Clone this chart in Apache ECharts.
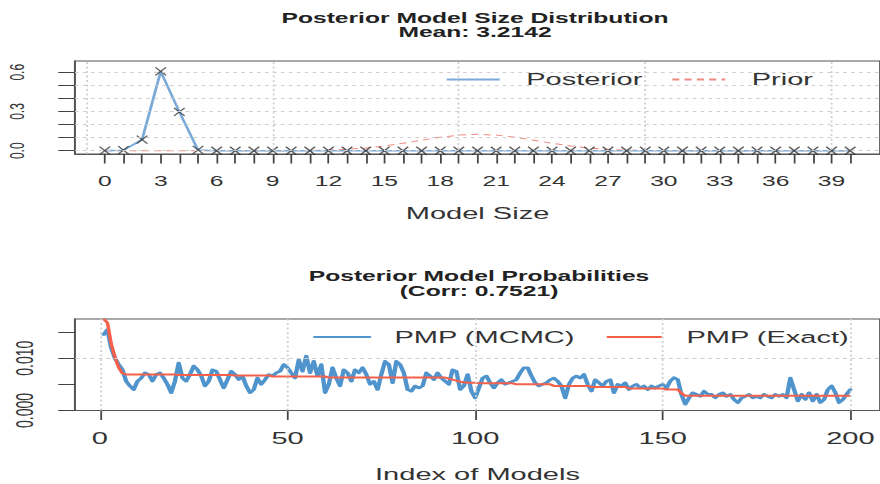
<!DOCTYPE html>
<html>
<head>
<meta charset="utf-8">
<script src="https://cdn.jsdelivr.net/npm/echarts@6/dist/echarts.min.js"></script>
<style>
html,body{margin:0;padding:0;background:#fff;overflow:hidden;}
#wrap{width:500px;height:484px;transform:scaleX(1.76);transform-origin:0 0;}
</style>
</head>
<body>
<div id="wrap"></div>
<script>
// ---------- Panel 1: Posterior Model Size Distribution ----------
const modelSizes = [0,1,2,3,4,5,6,7,8,9,10,11,12,13,14,15,16,17,18,19,20,21,22,23,24,25,26,27,28,29,30,31,32,33,34,35,36,37,38,39,40];
const posterior = [0.0005,0.004,0.085,0.607,0.297,0.006,0,0,0,0,0,0,0,0,0,0,0,0,0,0,0,0,0,0,0,0,0,0,0,0,0,0,0,0,0,0,0,0,0,0,0];
const prior = [0,0,0,0,0,0,0,0,0.0001,0.0003,0.0008,0.0021,0.0051,0.0109,0.0211,0.0366,0.0572,0.0807,0.1031,0.1194,0.1254,0.1194,0.1031,0.0807,0.0572,0.0366,0.0211,0.0109,0.0051,0.0021,0.0008,0.0003,0.0001,0,0,0,0,0,0,0,0];
const topXTicks = modelSizes;
const topXLabels = [0,3,6,9,12,15,18,21,24,27,30,33,36,39];
const topYTicks = [0,0.1,0.2,0.3,0.4,0.5,0.6];
const topYLabels = [0,0.3,0.6];
const topVGrid = [-1,9,19,29,39];
const topHGrid = [0,0.1,0.2,0.3,0.4,0.5,0.6];

// ---------- Panel 2: Posterior Model Probabilities ----------
const pmpMCMC = [
0.0145,0.0155,0.0120,0.0100,0.0088,0.0078,0.0056,0.0047,0.0040,0.0056,
0.0062,0.0072,0.0069,0.0056,0.0069,0.0072,0.0062,0.0050,0.0034,0.0056,
0.0091,0.0062,0.0056,0.0069,0.0085,0.0078,0.0066,0.0047,0.0056,0.0078,
0.0075,0.0059,0.0043,0.0059,0.0075,0.0069,0.0059,0.0066,0.0047,0.0034,
0.0040,0.0062,0.0050,0.0059,0.0069,0.0066,0.0072,0.0075,0.0088,0.0082,
0.0072,0.0062,0.0097,0.0075,0.0104,0.0072,0.0094,0.0066,0.0088,0.0034,
0.0050,0.0082,0.0062,0.0047,0.0078,0.0072,0.0056,0.0078,0.0072,0.0082,
0.0069,0.0050,0.0056,0.0040,0.0069,0.0094,0.0088,0.0053,0.0094,0.0088,
0.0072,0.0040,0.0037,0.0047,0.0043,0.0047,0.0072,0.0066,0.0059,0.0072,
0.0062,0.0056,0.0050,0.0078,0.0075,0.0040,0.0047,0.0069,0.0037,0.0024,
0.0043,0.0062,0.0066,0.0053,0.0043,0.0053,0.0059,0.0050,0.0053,0.0056,
0.0059,0.0072,0.0082,0.0082,0.0066,0.0053,0.0047,0.0050,0.0053,0.0059,
0.0062,0.0056,0.0047,0.0024,0.0050,0.0062,0.0066,0.0062,0.0069,0.0050,
0.0037,0.0059,0.0053,0.0047,0.0056,0.0059,0.0034,0.0050,0.0047,0.0053,
0.0040,0.0047,0.0050,0.0043,0.0047,0.0040,0.0047,0.0043,0.0047,0.0050,
0.0043,0.0056,0.0063,0.0059,0.0030,0.0012,0.0024,0.0034,0.0031,0.0027,
0.0037,0.0031,0.0031,0.0024,0.0031,0.0034,0.0027,0.0031,0.0021,0.0015,
0.0024,0.0027,0.0031,0.0024,0.0027,0.0024,0.0031,0.0027,0.0024,0.0031,
0.0027,0.0031,0.0024,0.0062,0.0040,0.0018,0.0031,0.0021,0.0034,0.0018,
0.0031,0.0015,0.0021,0.0040,0.0047,0.0034,0.0015,0.0021,0.0031,0.0040
];
const pmpExact = [
0.0175,0.0168,0.0128,0.0102,0.0082,0.0071,
0.0069,0.0069,0.0069,0.0069,0.0069,0.0069,0.0069,0.0069,0.0069,0.0069,0.0069,0.0069,0.0069,0.0069,
0.0068,0.0068,0.0068,0.0068,0.0068,0.0068,0.0068,0.0068,0.0068,0.0068,0.0068,0.0068,0.0068,0.0068,0.0068,
0.0067,0.0067,0.0067,0.0067,0.0067,0.0067,0.0067,0.0067,0.0067,0.0067,
0.0065,0.0065,0.0065,0.0065,0.0065,0.0065,0.0065,0.0065,0.0065,0.0065,0.0065,0.0065,0.0065,0.0065,0.0065,
0.0063,0.0063,0.0063,0.0063,0.0063,0.0063,0.0063,0.0063,0.0063,0.0063,0.0063,0.0063,0.0063,0.0063,0.0063,0.0063,
0.0063,0.0063,0.0063,0.0063,0.0063,0.0063,0.0063,0.0063,0.0063,0.0063,0.0063,0.0063,0.0063,0.0063,0.0063,0.0063,
0.0061,0.0059,0.0057,0.0055,0.0054,0.0053,0.0053,0.0053,
0.0052,0.0052,0.0052,0.0052,0.0052,0.0052,0.0052,0.0052,0.0052,0.0052,
0.0050,0.0050,0.0050,0.0050,0.0050,0.0050,0.0050,0.0050,0.0050,0.0050,
0.0047,0.0047,0.0047,0.0047,0.0047,0.0047,0.0047,0.0047,0.0047,0.0047,
0.0045,0.0045,0.0045,0.0045,0.0045,0.0045,0.0045,0.0045,0.0045,0.0045,
0.0042,0.0042,0.0042,0.0042,0.0042,0.0042,0.0042,0.0042,0.0042,0.0042,
0.0040,0.0040,0.0040,0.0040,
0.0033,
0.0028,0.0028,0.0028,0.0028,0.0028,0.0028,0.0028,0.0028,0.0028,0.0028,
0.0028,0.0028,0.0028,0.0028,0.0028,0.0028,0.0028,0.0028,0.0028,0.0028,
0.0028,0.0028,0.0028,0.0028,0.0028,0.0028,0.0028,0.0028,0.0028,0.0028,
0.0028,0.0028,0.0028,0.0028,0.0028,0.0028,0.0028,0.0028,0.0028,0.0028,
0.0028,0.0028,0.0028,0.0028,0.0028
];
const botXTicks = [0,50,100,150,200];
const botXLabels = [0,50,100,150,200];
const botYTicks = [0,0.005,0.010,0.015];
const botYLabels = [0,0.010];
const botVGrid = [0,50,100,150,200];
const botHGrid = [0.005,0.010,0.015];

// ---------- layout (horizontal coordinates are divided by the stretch) ----------
const SX = 1.76;
const bx = v => v / SX;
const FONT = "'Liberation Sans', Arial, Helvetica, sans-serif";
const TXT = '#333';
const AX = '#555';
const GRIDC = '#cfcfcf';

const chart = echarts.init(document.getElementById('wrap'), null, {renderer: 'svg', width: 500, height: 484});

function gridLines(v, h) {
  return {
    silent: true, symbol: ['none', 'none'], animation: false,
    label: {show: false}, emphasis: {disabled: true},
    lineStyle: {color: GRIDC, width: 1, type: [2, 2.5]},
    data: v.map(x => ({xAxis: x})).concat(h.map(y => ({yAxis: y})))
  };
}
function titleText(text, x, y) {
  return {type: 'text', x: bx(x), y: y, silent: true,
    style: {text: text, align: 'center', verticalAlign: 'middle',
            fontFamily: FONT, fontWeight: 'bold', fontSize: 14, fill: '#222'}};
}

const option = {
  animation: false,
  textStyle: {fontFamily: FONT},
  graphic: [
    titleText('Posterior Model Size Distribution', 475, 18.5),
    titleText('Mean: 3.2142', 475, 32.5),
    titleText('Posterior Model Probabilities', 479, 276.5),
    titleText('(Corr: 0.7521)', 479, 291)
  ],
  legend: [
    {data: ['Posterior', 'Prior'], left: bx(445), top: 71, padding: 0,
     itemWidth: bx(53), itemHeight: 12, itemGap: 16, selectedMode: false,
     itemStyle: {opacity: 0},
     textStyle: {fontSize: 16.5, color: TXT, fontFamily: FONT, padding: [0, 0, 0, 10]}},
    {data: ['PMP (MCMC)', 'PMP (Exact)'], left: bx(313), top: 328.5, padding: 0,
     itemWidth: bx(55), itemHeight: 12, itemGap: 17, selectedMode: false,
     itemStyle: {opacity: 0},
     textStyle: {fontSize: 16.5, color: TXT, fontFamily: FONT, padding: [0, 0, 0, 9]}}
  ],
  grid: [
    {left: bx(75), top: 61, width: bx(808), height: 93, show: true, borderColor: AX, borderWidth: 1, backgroundColor: 'transparent'},
    {left: bx(75), top: 319, width: bx(808), height: 92, show: true, borderColor: AX, borderWidth: 1, backgroundColor: 'transparent'}
  ],
  xAxis: [
    {type: 'value', gridIndex: 0, min: -1.6, max: 41.6,
     axisLine: {show: true, onZero: false, lineStyle: {color: AX}}, splitLine: {show: false},
     axisTick: {show: true, customValues: topXTicks, length: 9.5, lineStyle: {color: '#444'}},
     axisLabel: {customValues: topXLabels, margin: 20, fontSize: 14, color: TXT, fontFamily: FONT, formatter: v => String(v)},
     name: 'Model Size', nameLocation: 'middle', nameGap: 51,
     nameTextStyle: {fontSize: 16.5, color: TXT, fontFamily: FONT}},
    {type: 'value', gridIndex: 1, min: -6.64, max: 207.9,
     axisLine: {show: true, onZero: false, lineStyle: {color: AX}}, splitLine: {show: false},
     axisTick: {show: true, customValues: botXTicks, length: 9.5, lineStyle: {color: '#444'}},
     axisLabel: {customValues: botXLabels, margin: 19, fontSize: 16.5, color: TXT, fontFamily: FONT, formatter: v => String(v)},
     name: 'Index of Models', nameLocation: 'middle', nameGap: 55.5,
     nameTextStyle: {fontSize: 16.5, color: TXT, fontFamily: FONT}}
  ],
  yAxis: [
    {type: 'value', gridIndex: 0, min: -0.025, max: 0.686,
     axisLine: {show: true, onZero: false, lineStyle: {color: AX}}, splitLine: {show: false},
     axisTick: {show: true, customValues: topYTicks, length: 9.5, lineStyle: {color: '#444'}},
     axisLabel: {customValues: topYLabels, rotate: 90, margin: 27, fontSize: 12, color: TXT, fontFamily: FONT, formatter: v => v.toFixed(1)}},
    {type: 'value', gridIndex: 1, min: 0, max: 0.0175,
     axisLine: {show: true, onZero: false, lineStyle: {color: AX}}, splitLine: {show: false},
     axisTick: {show: true, customValues: botYTicks, length: 9.5, lineStyle: {color: '#444'}},
     axisLabel: {customValues: botYLabels, rotate: 90, margin: 22, fontSize: 14, color: TXT, fontFamily: FONT, formatter: v => v.toFixed(3)}}
  ],
  series: [
    {type: 'line', name: '_gridTop', xAxisIndex: 0, yAxisIndex: 0, data: [], z: 1, markLine: gridLines(topVGrid, topHGrid)},
    {type: 'line', name: 'Prior', xAxisIndex: 0, yAxisIndex: 0, z: 2, symbol: 'none',
     data: modelSizes.map((s, i) => [s, prior[i]]),
     lineStyle: {color: '#ef8a82', width: 1, type: [4, 3]}, itemStyle: {color: '#ef8a82'}},
    {type: 'line', name: 'Posterior', xAxisIndex: 0, yAxisIndex: 0, z: 3, symbol: 'none',
     data: modelSizes.map((s, i) => [s, posterior[i]]),
     lineStyle: {color: '#7aaad8', width: 1.6}, itemStyle: {color: '#7aaad8'}},
    {type: 'scatter', name: '_cross', xAxisIndex: 0, yAxisIndex: 0, z: 4,
     symbol: 'path://M0,0L10,10M10,0L0,10', symbolSize: [6, 8],
     data: modelSizes.map((s, i) => [s, posterior[i]]),
     itemStyle: {color: 'none', borderColor: '#333', borderWidth: 1}},

    {type: 'line', name: '_gridBot', xAxisIndex: 1, yAxisIndex: 1, data: [], z: 1, markLine: gridLines(botVGrid, botHGrid)},
    {type: 'line', name: 'PMP (MCMC)', xAxisIndex: 1, yAxisIndex: 1, z: 2, symbol: 'none',
     data: pmpMCMC.map((v, i) => [i + 1, v]),
     lineStyle: {color: '#4f94cd', width: 2.5, join: 'round', cap: 'round'}, itemStyle: {color: '#4f94cd'}},
    {type: 'line', name: 'PMP (Exact)', xAxisIndex: 1, yAxisIndex: 1, z: 3, symbol: 'none',
     data: pmpExact.map((v, i) => [i + 1, v]),
     lineStyle: {color: '#f4604a', width: 2}, itemStyle: {color: '#f4604a'}}
  ]
};
chart.setOption(option);
</script>
</body>
</html>
